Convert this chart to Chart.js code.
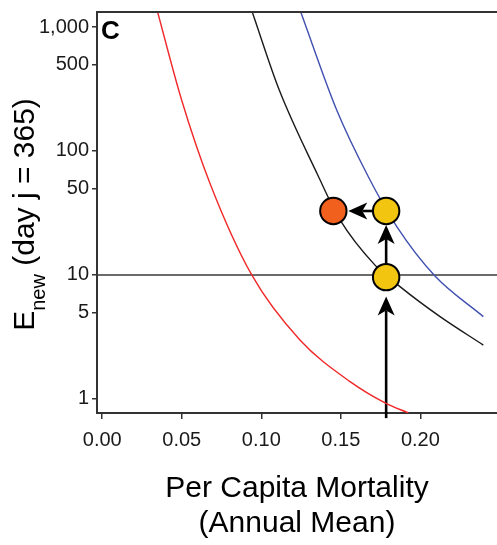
<!DOCTYPE html>
<html>
<head>
<meta charset="utf-8">
<script src="https://cdn.jsdelivr.net/npm/chart.js@4.4.0/dist/chart.umd.min.js"></script>
<style>
    html, body { margin: 0; padding: 0; background: #fff; overflow: hidden; }
    #contenedor { width: 497px; height: 545px; position: relative; }
    canvas { display: block; }
</style>
</head>
<body>
<div id="contenedor"><canvas id="grafica"></canvas></div>
<script>
// Curvas (mortalidad per cápita vs E_new)
const rojoX = [0.0348, 0.0499, 0.0677, 0.0940, 0.1243, 0.1558, 0.1778, 0.1925]
const rojoY = [1321, 258, 55, 10, 2.99, 1.38, 0.93, 0.77]
const negroX = [0.0943, 0.1113, 0.1355, 0.1495, 0.1715, 0.1872, 0.2124, 0.2396]
const negroY = [1321, 310, 64, 27.8, 12.0, 8.05, 4.61, 2.72]
const azulX = [0.1248, 0.1474, 0.1673, 0.1852, 0.2092, 0.2396]
const azulY = [1321, 214, 62, 24.5, 9.8, 4.61]

// Puntos y flechas
const puntosX = [0.1785, 0.1785, 0.1453]
const puntosY = [9.6, 32.8, 32.8]
const puntosColor = ['#F2C511', '#F2C511', '#F2601E']
const flechasDesde = [[0.1785, 0.7], [0.1785, 12.3], [0.170, 32.8]]
const flechasHasta = [[0.1785, 6.7], [0.1785, 25.3], [0.1547, 32.8]]
const lineaRef = 10

// Ejes
const ticksX = [0, 0.05, 0.10, 0.15, 0.20]
const ticksY = [1, 5, 10, 50, 100, 500, 1000]
const tituloX = ['Per Capita Mortality', '(Annual Mean)']
const tituloY = ['E', 'new', ' (day j = 365)']
const etiquetaPanel = 'C'

const fuente = "'Liberation Sans', Arial, Helvetica, sans-serif"

function serie(xs, ys) {
    return xs.map((x, i) => ({ x: x, y: ys[i] }))
}

function curva(xs, ys, color) {
    return {
        type: 'line',
        data: serie(xs, ys),
        borderColor: color,
        borderWidth: 1.4,
        pointRadius: 0,
        cubicInterpolationMode: 'monotone',
        fill: false
    }
}

function flecha(ctx, x1, y1, x2, y2) {
    const ang = Math.atan2(y2 - y1, x2 - x1)
    const largo = 19
    const ancho = 8.5
    const muesca = 5
    ctx.beginPath()
    ctx.moveTo(x1, y1)
    ctx.lineTo(x2 - Math.cos(ang) * (largo - muesca), y2 - Math.sin(ang) * (largo - muesca))
    ctx.stroke()
    ctx.save()
    ctx.translate(x2, y2)
    ctx.rotate(ang)
    ctx.beginPath()
    ctx.moveTo(0, 0)
    ctx.lineTo(-largo, -ancho)
    ctx.lineTo(-largo + muesca, 0)
    ctx.lineTo(-largo, ancho)
    ctx.closePath()
    ctx.fill()
    ctx.restore()
}

const extras = {
    id: 'extras',
    beforeDatasetsDraw(chart) {
        const { ctx, chartArea } = chart
        const x = chart.scales.x
        const y = chart.scales.y
        ctx.save()
        // línea horizontal de referencia
        const yr = y.getPixelForValue(lineaRef)
        ctx.strokeStyle = '#3a3a3a'
        ctx.lineWidth = 1.5
        ctx.beginPath()
        ctx.moveTo(chartArea.left, yr)
        ctx.lineTo(chartArea.right, yr)
        ctx.stroke()
        // flechas
        ctx.strokeStyle = '#000'
        ctx.fillStyle = '#000'
        ctx.lineWidth = 2.6
        flechasDesde.forEach((d, i) => {
            const h = flechasHasta[i]
            flecha(ctx, x.getPixelForValue(d[0]), y.getPixelForValue(d[1]),
                x.getPixelForValue(h[0]), y.getPixelForValue(h[1]))
        })
        ctx.restore()
    },
    afterDraw(chart) {
        const { ctx, chartArea } = chart
        ctx.save()
        // borde superior
        ctx.strokeStyle = '#333'
        ctx.lineWidth = 2
        ctx.beginPath()
        ctx.moveTo(chartArea.left - 1, chartArea.top)
        ctx.lineTo(chartArea.right, chartArea.top)
        ctx.stroke()

        ctx.fillStyle = '#000'
        // etiqueta del panel
        ctx.font = 'bold 26px ' + fuente
        ctx.textAlign = 'left'
        ctx.textBaseline = 'alphabetic'
        ctx.fillText(etiquetaPanel, 101, 39)

        // título eje X
        ctx.font = '30px ' + fuente
        ctx.textAlign = 'center'
        const cx = (chartArea.left + chartArea.right) / 2
        ctx.fillText(tituloX[0], cx, 497)
        ctx.fillText(tituloX[1], cx, 532)

        // título eje Y con subíndice
        ctx.textAlign = 'left'
        ctx.font = '30px ' + fuente
        const wE = ctx.measureText(tituloY[0]).width
        const wResto = ctx.measureText(tituloY[2]).width
        ctx.font = '20px ' + fuente
        const wSub = ctx.measureText(tituloY[1]).width
        const total = wE + wSub + wResto
        const cy = (chartArea.top + chartArea.bottom) / 2 + 2
        ctx.translate(34, cy)
        ctx.rotate(-Math.PI / 2)
        const inicio = -total / 2
        ctx.font = '30px ' + fuente
        ctx.fillText(tituloY[0], inicio, 0)
        ctx.fillText(tituloY[2], inicio + wE + wSub, 0)
        ctx.font = '20px ' + fuente
        ctx.fillText(tituloY[1], inicio + wE, 11)
        ctx.restore()
    }
}

const ctx = document.getElementById('grafica')
new Chart(ctx, {
    type: 'scatter',
    data: {
        datasets: [
            {
                data: serie(puntosX, puntosY),
                backgroundColor: puntosColor,
                borderColor: '#000',
                borderWidth: 2,
                pointRadius: 13.2,
                pointHoverRadius: 13.2,
                showLine: false
            },
            curva(rojoX, rojoY, '#F02828'),
            curva(negroX, negroY, '#1a1a1a'),
            curva(azulX, azulY, '#4050B0')
        ]
    },
    options: {
        responsive: true,
        maintainAspectRatio: false,
        animation: false,
        events: [],
        layout: { autoPadding: false, padding: { top: 12, right: 0, left: 0, bottom: 0 } },
        plugins: {
            legend: { display: false },
            tooltip: { enabled: false }
        },
        scales: {
            x: {
                type: 'linear',
                min: -0.0033,
                max: 0.2482,
                afterFit: s => { s.height = 132; s.paddingLeft = 0; s.paddingRight = 0 },
                afterBuildTicks: s => { s.ticks = ticksX.map(v => ({ value: v })) },
                grid: { drawOnChartArea: false, drawTicks: true, tickLength: 6, color: '#333', lineWidth: 1.5 },
                border: { display: true, color: '#333', width: 2 },
                ticks: {
                    autoSkip: false,
                    maxRotation: 0,
                    padding: 9,
                    color: '#1a1a1a',
                    font: { family: fuente, size: 20 },
                    callback: v => v.toFixed(2)
                }
            },
            y: {
                type: 'logarithmic',
                min: 0.77,
                max: 1321,
                afterFit: s => { s.width = 97; s.paddingTop = 0; s.paddingBottom = 0 },
                afterBuildTicks: s => { s.ticks = ticksY.map(v => ({ value: v })) },
                grid: { drawOnChartArea: false, drawTicks: true, tickLength: 5, color: '#333', lineWidth: 1.5 },
                border: { display: true, color: '#333', width: 2 },
                ticks: {
                    autoSkip: false,
                    padding: 3,
                    color: '#1a1a1a',
                    font: { family: fuente, size: 20 },
                    callback: v => Number(v).toLocaleString('en-US')
                }
            }
        }
    },
    plugins: [extras]
})
</script>
</body>
</html>
